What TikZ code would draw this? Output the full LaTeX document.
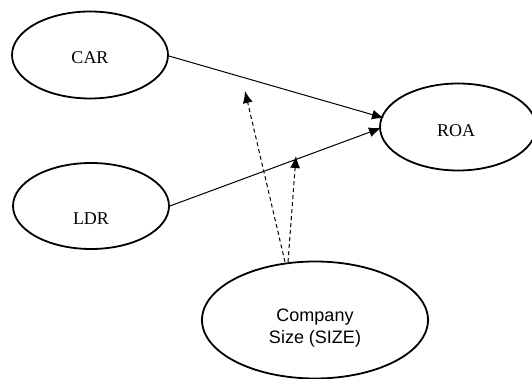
\documentclass[tikz,border=0pt]{standalone}
\usepackage{fontspec}
\setmainfont{Liberation Serif}
\newfontfamily\arialfont{Liberation Sans}
\usetikzlibrary{shapes.geometric,arrows.meta}
\begin{document}
\begin{tikzpicture}[x=1pt,y=-1pt,
  var/.style={draw,ellipse,line width=1.8pt,inner sep=0pt,font=\fontsize{18}{21}\selectfont},
  path/.style={line width=1pt,-{Latex[length=12pt,width=10pt]}},
  moder/.style={path,dash pattern=on 4pt off 3pt}]
\useasboundingbox (0,0) rectangle (532,379);
\node[var,minimum width=156pt,minimum height=87pt] (car) at (90,55) {};
\node[font=\fontsize{18}{21}\selectfont] (carl) at (90,58) {CAR};
\node[var,minimum width=156pt,minimum height=86pt] (ldr) at (91,206) {};
\node[font=\fontsize{18}{21}\selectfont] (ldrl) at (91,219) {LDR};
\node[var,minimum width=156pt,minimum height=87pt] (roa) at (458,127) {};
\node[font=\fontsize{18}{21}\selectfont] (roal) at (456,131) {ROA};
\node[var,minimum width=226pt,minimum height=117pt] (size) at (315,320) {};
\node[align=center,font=\arialfont\fontsize{18}{22}\selectfont] (sizel) at (315,328) {Company\\Size (SIZE)};
\coordinate (s1) at (285,262);
\coordinate (s2) at (288,262);
\coordinate (t1) at (245,91);
\coordinate (t2) at (296,156);
\coordinate (r1) at (384,118);
\coordinate (r2) at (381,128);
\draw[path] (car.east) ++(0,1) -- (r1);
\draw[path] (ldr.east) -- (r2);
\draw[moder] (s1) -- (t1);
\draw[moder] (s2) -- (t2);
\end{tikzpicture}
\end{document}
